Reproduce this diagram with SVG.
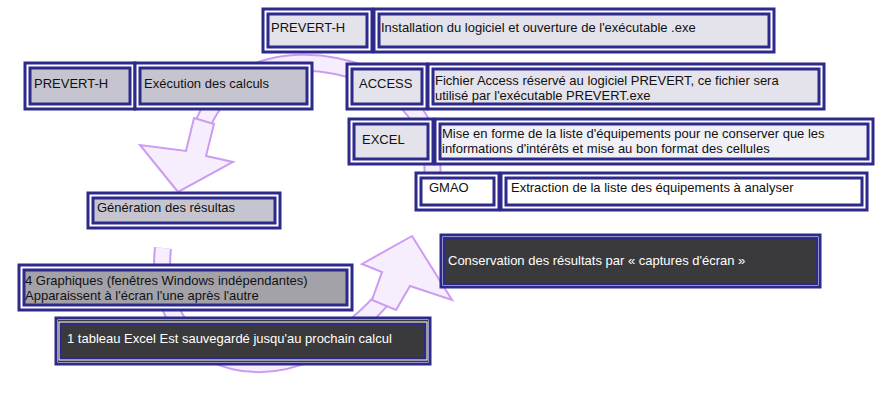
<svg xmlns="http://www.w3.org/2000/svg" width="877" height="409" viewBox="0 0 877 409">
<style>
.o{fill:#fff;stroke:#2d2a8c;stroke-width:3}
.i{stroke:#2d2a8c;stroke-width:3}
.l{fill:#e4e2ea}.m{fill:#c6c5cf}.w{fill:#fff}.p{fill:#f2f0f7}.g{fill:#a3a2a8}.d{fill:#3a3a3c}
text{font-family:"Liberation Sans",Arial,sans-serif;font-size:13px;fill:#111}
.t{fill:#fff}
.bo{fill:none;stroke:#cc9cf2;stroke-width:18}
.bi{fill:none;stroke:#f6eefd;stroke-width:14}
.ah{fill:#f6eefd;stroke:#cc9cf2;stroke-width:2}
</style>
<rect width="877" height="409" fill="#fff"/>
<g id="connectors">
<path class="bo" d="M432,180 C440,90 350,56 285,64 C225,72 200,115 196,152"/>
<path class="bi" d="M432,180 C440,90 350,56 285,64 C225,72 200,115 196,152"/>
<polygon class="ah" points="178,192 140,145 186,151 194,118 214,124 206,156 233,162"/>
<path class="bo" d="M163,248 C150,370 290,415 392,288"/>
<path class="bi" d="M163,248 C150,370 290,415 392,288"/>
<polygon class="ah" points="412,236 362,264 382,272 372,300 396,310 410,286 452,300"/>
</g>
<g id="n1"><rect class="o" x="263" y="9" width="109" height="43"/><rect class="i l" x="268" y="14" width="99" height="33"/><text x="271" y="32">PREVERT-H</text></g>
<g id="n2"><rect class="o" x="374" y="9" width="400" height="43"/><rect class="i l" x="379" y="14" width="390" height="33"/><text x="381" y="32">Installation du logiciel et ouverture de l'exécutable .exe</text></g>
<g id="n3"><rect class="o" x="25" y="63" width="110" height="46"/><rect class="i m" x="30" y="68" width="100" height="36"/><text x="34" y="88">PREVERT-H</text></g>
<g id="n4"><rect class="o" x="135" y="63" width="177" height="46"/><rect class="i m" x="140" y="68" width="167" height="36"/><text x="144" y="88">Exécution des calculs</text></g>
<g id="n5"><rect class="o" x="347" y="64" width="80" height="45"/><rect class="i l" x="352" y="69" width="70" height="35"/><text x="359" y="88">ACCESS</text></g>
<g id="n6"><rect class="o" x="428" y="64" width="396" height="45"/><rect class="i l" x="433" y="69" width="386" height="35"/><text x="435" y="85">Fichier Access réservé au logiciel PREVERT, ce fichier sera</text><text x="435" y="100">utilisé par l'exécutable PREVERT.exe</text></g>
<g id="n7"><rect class="o" x="349" y="119" width="84" height="45"/><rect class="i l" x="354" y="124" width="74" height="35"/><text x="362" y="144">EXCEL</text></g>
<g id="n8"><rect class="o" x="435" y="119" width="438" height="45"/><rect class="i p" x="440" y="124" width="428" height="35"/><text x="442" y="138">Mise en forme de la liste d'équipements pour ne conserver que les</text><text x="442" y="153">informations d'intérêts et mise au bon format des cellules</text></g>
<g id="n9"><rect class="o" x="416" y="173" width="83" height="37"/><rect class="i w" x="421" y="178" width="73" height="27"/><text x="429" y="192">GMAO</text></g>
<g id="n10"><rect class="o" x="501" y="173" width="366" height="37"/><rect class="i w" x="506" y="178" width="356" height="27"/><text x="511" y="192">Extraction de la liste des équipements à analyser</text></g>
<g id="n11"><rect class="o" x="88" y="193" width="192" height="35"/><rect class="i m" x="93" y="198" width="182" height="25"/><text x="97" y="212">Génération des résultas</text></g>
<g id="n12"><rect class="o" x="19" y="265" width="333" height="45"/><rect class="i g" x="24" y="270" width="323" height="35"/><text x="25" y="285">4 Graphiques (fenêtres  Windows indépendantes)</text><text x="25" y="300">Apparaissent à l'écran l'une après l'autre</text></g>
<g id="n13"><rect class="o" x="56" y="318" width="374" height="46"/><rect class="d" x="58" y="320" width="370" height="42"/><rect x="59" y="322" width="368" height="38" fill="none" stroke="#fff" stroke-width="1"/><rect x="61" y="324" width="364" height="34" fill="none" stroke="#2d2a8c" stroke-width="2"/><text class="t" x="67" y="343">1 tableau Excel Est sauvegardé jusqu'au prochain calcul</text></g>
<g id="n14"><rect class="o" x="441" y="235" width="379" height="52"/><rect class="d" x="443" y="237" width="375" height="48"/><rect x="444" y="239" width="373" height="45" fill="none" stroke="#2d2a8c" stroke-width="2"/><text class="t" x="448" y="265">Conservation des résultats par « captures d'écran »</text></g>
</svg>
